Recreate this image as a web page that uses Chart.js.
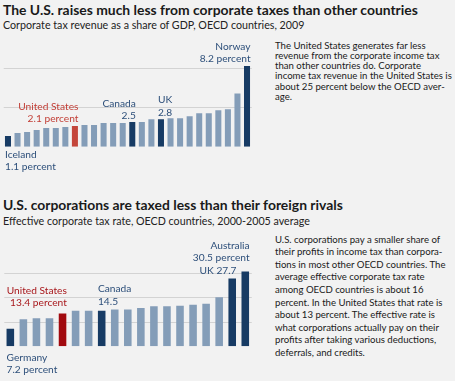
<!DOCTYPE html>
<html><head><meta charset="utf-8">
<script src="https://cdn.jsdelivr.net/npm/chart.js@4"></script>
<style>
html,body{margin:0;padding:0;background:#f2f2f2;}
body{width:455px;height:381px;position:relative;overflow:hidden;font-family:Lato,"Open Sans",sans-serif;color:#1c1c1c;}
.t{position:absolute;left:3px;white-space:nowrap;font-weight:bold;font-size:13.9px;line-height:14px;color:#1a1a1a;}
.s{position:absolute;left:3px;white-space:nowrap;font-size:10.7px;line-height:12px;color:#222;}
.p{position:absolute;left:275px;white-space:nowrap;font-size:9.6px;color:#1a1a1a;}
.c{position:absolute;left:0;}
</style></head><body>
<div class="t" style="top:3px">The U.S. raises much less from corporate taxes than other countries</div>
<div class="s" style="top:19px">Corporate tax revenue as a share of GDP, OECD countries, 2009</div>
<div class="p" style="top:40.5px;line-height:10.3px">The United States generates far less<br>revenue from the corporate income tax<br>than other countries do. Corporate<br>income tax revenue in the United States is<br>about 25 percent below the OECD aver-<br>age.</div>
<div class="t" style="top:198px">U.S. corporations are taxed less than their foreign rivals</div>
<div class="s" style="top:214.5px">Effective corporate tax rate, OECD countries, 2000-2005 average</div>
<div class="p" style="top:233.7px;line-height:12.6px">U.S. corporations pay a smaller share of<br>their profits in income tax than corpora-<br>tions in most other OECD countries. The<br>average effective corporate tax rate<br>among OECD countries is about 16<br>percent. In the United States that rate is<br>about 13 percent. The effective rate is<br>what corporations actually pay on their<br>profits after taking various deductions,<br>deferrals, and credits.</div>
<div class="c" style="top:30px;width:258px;height:145px"><canvas id="c1"></canvas></div>
<div class="c" style="top:230px;width:258px;height:150px"><canvas id="c2"></canvas></div>
<script>
// ---- Data ----
const topCategories = ["Iceland","","","","","","","United States","","","","","","Canada","","","UK","","","","","","","","","Norway"];
const topValues = [1.1,1.4,1.5,1.7,1.9,1.9,2.0,2.1,2.2,2.2,2.4,2.4,2.4,2.5,2.5,2.8,2.8,2.9,2.9,3.1,3.4,3.4,3.7,3.8,5.4,8.2];
const topGrid = [4,8];

const bottomCategories = ["Germany","","","","United States","","","Canada","","","","","","","","","","UK","Australia"];
const bottomValues = [7.2,11.0,11.4,11.4,13.4,14.5,14.5,14.5,15.0,15.0,15.6,16.3,16.3,16.6,17.0,17.4,20.0,27.7,30.5];
const bottomGrid = [10,20,30];

const darkNames = ["Iceland","Canada","UK","Norway","Germany","Australia"];
const usName = "United States";

const LIGHT = "#849db8", DARK = "#173b64", LBLUE_TXT = "#2d4f7a";

function colorsFor(cats, red){
  return cats.map(c => c === usName ? red : (darkNames.includes(c) ? DARK : LIGHT));
}

const annPlugin = {
  id: 'ann',
  beforeDatasetsDraw(chart, args, opts){
    const ctx = chart.ctx, y = chart.scales.y, a = chart.chartArea;
    ctx.save();
    ctx.strokeStyle = '#d3d3d3'; ctx.lineWidth = 1.2;
    (opts.grid||[]).forEach(v => {
      const py = Math.round(y.getPixelForValue(v)) + 0.5;
      ctx.beginPath(); ctx.moveTo(a.left+0.5, py); ctx.lineTo(a.right, py); ctx.stroke();
    });
    ctx.restore();
  },
  afterDatasetsDraw(chart, args, opts){
    const ctx = chart.ctx;
    const meta = chart.getDatasetMeta(0);
    const base = chart.scales.y.getPixelForValue(0);
    ctx.save();
    ctx.font = '10.2px Lato, "Open Sans", sans-serif';
    ctx.textBaseline = 'middle';
    (opts.labels||[]).forEach(l => {
      const bar = meta.data[l.index];
      const p = bar.getProps(['x','y','width'], true);
      ctx.fillStyle = l.color;
      ctx.textAlign = l.align;
      const x = l.align === 'right' ? p.x + p.width/2 + 0.5 : p.x - p.width/2;
      const n = l.lines.length;
      l.lines.forEach((t, k) => {
        let ty;
        if (l.pos === 'below') ty = base + l.off + k*l.lh;
        else ty = p.y - l.off - (n-1-k)*l.lh;
        ctx.fillText(t, x, ty);
      });
    });
    ctx.restore();
  }
};

function idx(cats, name){ return cats.indexOf(name); }
function pct(v){ return v.toFixed(1) + ' percent'; }

function makeChart(id, cats, vals, red, max, barPct, padding, grid, labels){
  return new Chart(document.getElementById(id), {
    type: 'bar',
    data: { labels: cats, datasets: [{ data: vals, backgroundColor: colorsFor(cats, red), barPercentage: barPct, categoryPercentage: 1, borderWidth: 0 }] },
    options: {
      responsive: true, maintainAspectRatio: false, animation: false,
      layout: { padding },
      scales: {
        x: { display: false },
        y: { display: false, min: 0, max }
      },
      plugins: { legend: { display: false }, tooltip: { enabled: false }, ann: { grid, labels } }
    },
    plugins: [annPlugin]
  });
}

const ti = n => idx(topCategories, n), bi = n => idx(bottomCategories, n);

makeChart('c1', topCategories, topValues, "#c4463b", 10, 0.63,
  { left: 3.2, right: 6.2, top: 18.3, bottom: 28.3 }, topGrid, [
  { index: ti("Norway"), lines: ["Norway", pct(topValues[ti("Norway")])], align: 'right', pos: 'above', off: 7.5, lh: 12.3, color: LBLUE_TXT },
  { index: ti(usName), lines: [usName, pct(topValues[ti(usName)])], align: 'right', pos: 'above', off: 7.3, lh: 12.3, color: "#c23e36" },
  { index: ti("Canada"), lines: ["Canada", topValues[ti("Canada")].toFixed(1)], align: 'right', pos: 'above', off: 6.2, lh: 12.3, color: LBLUE_TXT },
  { index: ti("UK"), lines: ["UK", topValues[ti("UK")].toFixed(1)], align: 'left', pos: 'above', off: 6.6, lh: 13.3, color: LBLUE_TXT },
  { index: ti("Iceland"), lines: ["Iceland", pct(topValues[ti("Iceland")])], align: 'left', pos: 'below', off: 8.5, lh: 11.8, color: LBLUE_TXT }
]);

makeChart('c2', bottomCategories, bottomValues, "#a10a0f", 35, 0.58,
  { left: 3.8, right: 6.2, top: 30.55, bottom: 33.7 }, bottomGrid, [
  { index: bi("Australia"), lines: ["Australia", pct(bottomValues[bi("Australia")])], align: 'right', pos: 'above', off: 13.7, lh: 12.4, color: LBLUE_TXT },
  { index: bi("UK"), lines: ["UK " + bottomValues[bi("UK")].toFixed(1)], align: 'right', pos: 'above', off: 7.3, lh: 12.4, color: LBLUE_TXT },
  { index: bi(usName), lines: [usName, pct(bottomValues[bi(usName)])], align: 'right', pos: 'above', off: 10.4, lh: 12.6, color: "#a8181c" },
  { index: bi("Canada"), lines: ["Canada", bottomValues[bi("Canada")].toFixed(1)], align: 'left', pos: 'above', off: 9, lh: 13, color: LBLUE_TXT },
  { index: bi("Germany"), lines: ["Germany", pct(bottomValues[bi("Germany")])], align: 'left', pos: 'below', off: 11.4, lh: 12.3, color: LBLUE_TXT }
]);
</script>
</body></html>
